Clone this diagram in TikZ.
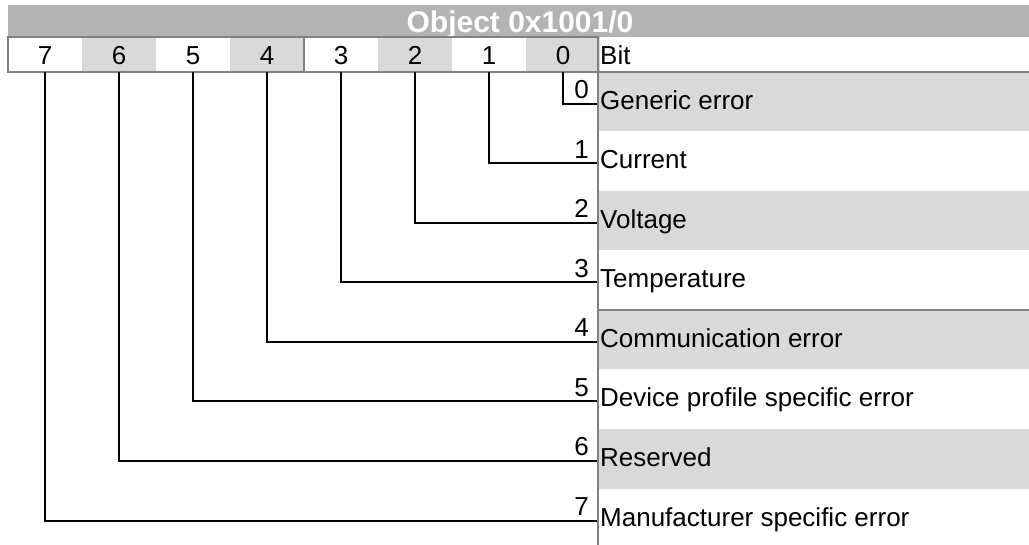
\documentclass[tikz,border=0pt]{standalone}
\usepackage{fontspec}
\setmainfont{Liberation Sans}
\definecolor{titlegray}{HTML}{B3B3B3}
\definecolor{rowshade}{HTML}{D9D9D9}
\definecolor{rulegray}{HTML}{808080}
\tikzset{
  txt/.style={inner sep=0pt, font=\fontsize{26}{30}\selectfont},
  desc/.style={txt, anchor=base west},
  bitlbl/.style={txt, anchor=base east},
  hdr/.style={txt, anchor=base},
  gridline/.style={draw=rulegray, line width=2pt},
  wire/.style={draw=black, line width=2pt},
}
\begin{document}
\begin{tikzpicture}[x=1pt,y=-1pt]
\useasboundingbox (0,0) rectangle (1029,545);
% title bar
\fill[titlegray] (8,5) rectangle (1029,37);
\node[txt, anchor=base, text=white, font=\fontsize{30}{32}\selectfont\bfseries] (title) at (520,33) {Object 0x1001/0};
% header cells
\foreach \b in {0,...,7}{
  \pgfmathsetmacro{\xl}{8+74*(7-\b)}
  \pgfmathtruncatemacro{\odd}{mod(\b+1,2)}
  \ifnum\odd=1 \fill[rowshade] (\xl,37) rectangle ++(74,35); \fi
  \coordinate (c\b) at (\xl+37,72);
  \node[hdr] (h\b) at (\xl+37,65) {\b};
}
\node[desc] (bit) at (600,65) {Bit};
% row shading
\foreach \k in {0,2,4,6}{
  \fill[rowshade] (598,72+59.5*\k) rectangle (1029,72+59.5*\k+59.5);
}
% grid lines
\draw[gridline] (8,37) rectangle (598,72);
\draw[gridline] (304,37) -- (304,72);
\draw[gridline] (8,72) -- (1029,72);
\draw[gridline] (598,37) -- (598,545);
\draw[gridline] (598,310) -- (1029,310);
% rows
\foreach \b/\t in {0/Generic error,1/Current,2/Voltage,3/Temperature,4/Communication error,5/Device profile specific error,6/Reserved,7/Manufacturer specific error}{
  \pgfmathsetmacro{\ly}{72+59.5*\b+32}
  \coordinate (e\b) at (597,\ly);
  \node[bitlbl] (n\b) at (589,\ly-5) {\b};
  \node[desc] (d\b) at (600,\ly+5.5) {\t};
  \draw[wire] (c\b) |- (e\b);
}
\end{tikzpicture}
\end{document}
